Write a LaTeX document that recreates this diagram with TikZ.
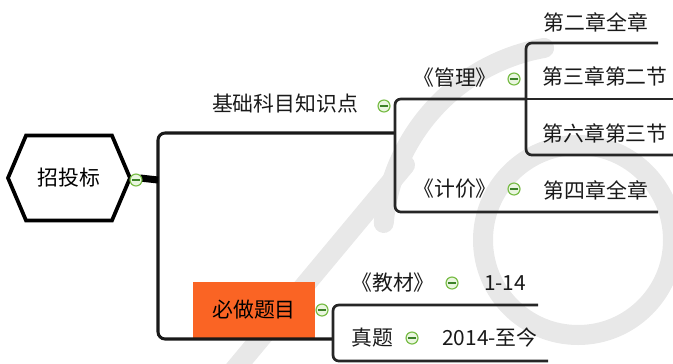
\documentclass[tikz,border=0pt]{standalone}
\usepackage{fontspec}
\setmainfont{Noto Sans CJK SC}
\usepackage{xcolor}
\usepackage{tikz}
\usetikzlibrary{shapes.symbols}
\definecolor{foldgreen}{RGB}{120,188,70}
\definecolor{folddark}{RGB}{60,130,40}
\definecolor{foldfill}{RGB}{234,246,224}
\definecolor{mustorange}{RGB}{250,100,36}
\definecolor{markgray}{RGB}{232,232,232}
\tikzstyle{topic} = [inner sep=0pt, text=black!90, font=\fontsize{17.8}{20}\selectfont]
\tikzstyle{central} = [signal, signal to=east and west, signal pointer angle=134, draw=black, line width=3.2pt, fill=white, minimum width=3.66cm, minimum height=2.55cm, inner sep=0pt, font=\fontsize{17.8}{20}\selectfont]
\tikzstyle{mustbox} = [rectangle, fill=mustorange, minimum width=3.63cm, minimum height=1.68cm, inner sep=0pt, font=\fontsize{17.8}{20}\selectfont]
\tikzstyle{fold} = [circle, draw=foldgreen, line width=1pt, fill=foldfill, minimum size=3.6mm, inner sep=0pt, path picture={\draw[folddark, line width=1pt] ([xshift=-1.2mm]path picture bounding box.center) -- ([xshift=1.2mm]path picture bounding box.center);}]
\tikzstyle{trunk} = [draw=black!90, line width=2.6pt, rounded corners=6pt]
\tikzstyle{branch} = [draw=black!85, line width=2.3pt, rounded corners=5pt]
\tikzstyle{wmark} = [draw=markgray, line width=0.6cm, line cap=round]

\begin{document}
\begin{tikzpicture}[x=0.03cm, y=-0.03cm]
    \useasboundingbox (0,0) rectangle (673,363);

    % watermark in the background
    \draw[wmark] (578,240) circle [radius=2.85cm];
    \draw[wmark] (578,240) ++(100:5.85cm) arc [start angle=100, end angle=175, radius=5.85cm];
    \draw[wmark] (230,375) -- (405,165);

    % joints of the brackets
    \coordinate (trunk) at (158,180);
    \coordinate (jichu-j) at (395,133);
    \coordinate (guanli-j) at (526,99);
    \coordinate (bizuo-j) at (333,339);
    \coordinate (dierzhang-e) at (658,43);
    \coordinate (disanzhang-e) at (673,99);
    \coordinate (diliuzhang-e) at (673,155);
    \coordinate (disizhang-e) at (658,212);
    \coordinate (jiaocai-e) at (538,305);
    \coordinate (zhenti-e) at (548,361);

    % topics
    \node (zhaotoubiao) [central] at (69,178) {招投标};
    \node (jichu) [topic] at (285,104) {基础科目知识点};
    \node (guanli) [topic] at (455,78) {《管理》};
    \node (jijia) [topic] at (455,189) {《计价》};
    \node (dierzhang) [topic] at (596,22) {第二章全章};
    \node (disanzhang) [topic] at (605,76) {第三章第二节};
    \node (diliuzhang) [topic] at (605,133) {第六章第三节};
    \node (disizhang) [topic] at (596,190) {第四章全章};
    \node (bizuo) [mustbox] at (254,310) {必做题目};
    \node (jiaocai) [topic] at (393,283) {《教材》};
    \node (yeshu) [topic] at (505,283) {1-14};
    \node (zhenti) [topic] at (372,338) {真题};
    \node (nianfen) [topic] at (490,338) {2014-至今};

    % connectors
    \draw[trunk] (jichu-j) -- (trunk |- jichu-j) -- (trunk |- bizuo-j) -- (bizuo-j);
    \draw[trunk, line width=2.8pt] (zhaotoubiao.east) -- (trunk);
    \draw[draw=black, line width=6pt] (zhaotoubiao.east) ++(8,0) -- (trunk);
    \draw[branch] (guanli-j) -- (jichu-j |- guanli-j) -- (jichu-j |- disizhang-e) -- (disizhang-e);
    \draw[branch] (guanli-j) -- (disanzhang-e);
    \draw[branch] (dierzhang-e) -- (guanli-j |- dierzhang-e) -- (guanli-j |- diliuzhang-e) -- (diliuzhang-e);
    \draw[branch] (jiaocai-e) -- (bizuo-j |- jiaocai-e) -- (bizuo-j |- zhenti-e) -- (zhenti-e);

    % fold marks
    \node (f-zhaotoubiao) [fold] at (136,180) {};
    \node (f-jichu) [fold] at (384,106) {};
    \node (f-guanli) [fold] at (514,79) {};
    \node (f-jijia) [fold] at (514,189) {};
    \node (f-bizuo) [fold] at (322,310) {};
    \node (f-jiaocai) [fold] at (452,283) {};
    \node (f-zhenti) [fold] at (412,338) {};
\end{tikzpicture}
\end{document}
